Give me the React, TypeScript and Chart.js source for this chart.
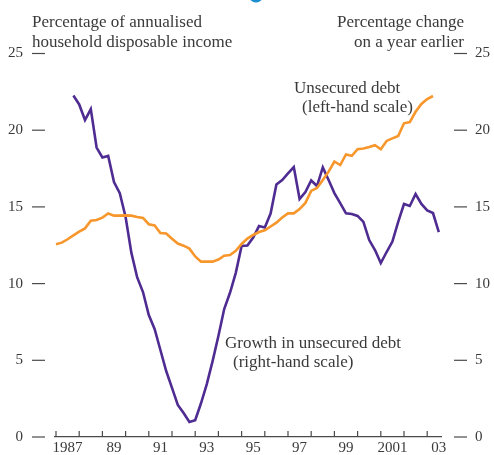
import { useEffect, useRef } from 'react';
import { Chart, registerables } from 'chart.js';

Chart.register(...registerables);

const FONT = '"Liberation Serif", "Times New Roman", serif';
const TEXT = '#3a3a3a';
const AXIS = '#4a4a4a';
const ORANGE = '#F7962B';
const PURPLE = '#4F2C91';

// Quarterly periods 1987 Q1 .. 2003 Q4 (as decimal years)
const quarterYears: number[] = [];
for (let y = 1987; y <= 2003; y++) {
  for (let q = 0; q < 4; q++) quarterYears.push(y + q / 4);
}

const yearTicks = [1987, 1988, 1989, 1990, 1991, 1992, 1993, 1994, 1995, 1996, 1997, 1998, 1999, 2000, 2001, 2002, 2003];
const yearLabels: Record<number, string> = {
  1987: '1987', 1989: '89', 1991: '91', 1993: '93', 1995: '95',
  1997: '97', 1999: '99', 2001: '2001', 2003: '03',
};
const valueTicks = [0, 5, 10, 15, 20, 25];

// Unsecured debt, % of annualised household disposable income (left-hand scale), from 1987 Q1
const debtRatio = [
  12.56, 12.67, 12.89, 13.14, 13.39, 13.6, 14.1, 14.15, 14.3, 14.57,
  14.43, 14.43, 14.45, 14.43, 14.34, 14.28, 13.87, 13.79, 13.3, 13.27,
  12.92, 12.61, 12.47, 12.28, 11.77, 11.43, 11.43, 11.43, 11.57, 11.82,
  11.86, 12.14, 12.58, 12.93, 13.17, 13.36, 13.47, 13.72, 13.97, 14.31,
  14.58, 14.58, 14.86, 15.26, 16.04, 16.23, 16.75, 17.3, 17.96, 17.73,
  18.42, 18.33, 18.76, 18.81, 18.9, 19.02, 18.76, 19.3, 19.47, 19.62,
  20.45, 20.53, 21.2, 21.71, 22.03, 22.23,
];

// Growth in unsecured debt, % change on a year earlier (right-hand scale), from 1987 Q4
const growthStartIndex = 3;
const growth = [
  22.26, 21.68, 20.66, 21.38, 18.87, 18.22, 18.32, 16.62, 15.89, 14.34,
  12.0, 10.4, 9.45, 7.95, 7.04, 5.67, 4.3, 3.2, 2.09, 1.56,
  0.98, 1.1, 2.2, 3.45, 4.95, 6.58, 8.34, 9.4, 10.7, 12.45,
  12.48, 13.0, 13.75, 13.66, 14.57, 16.46, 16.75, 17.18, 17.6, 15.51,
  15.97, 16.72, 16.36, 17.57, 16.75, 15.9, 15.25, 14.58, 14.54, 14.41,
  14.02, 12.84, 12.19, 11.34, 12.06, 12.74, 14.02, 15.19, 15.06, 15.84,
  15.19, 14.77, 14.6, 13.36,
];

const decorPlugin = {
  id: 'decor',
  afterDraw(chart: any) {
    const { ctx, chartArea, scales } = chart;
    const x = scales.x;
    const yl = scales.y;
    const yr = scales.y2;
    ctx.save();
    ctx.strokeStyle = AXIS;
    ctx.lineWidth = 1.2;
    // upward tick marks on the time axis
    x.ticks.forEach((t: any) => {
      const px = x.getPixelForValue(t.value);
      ctx.beginPath();
      ctx.moveTo(px, chartArea.bottom);
      ctx.lineTo(px, chartArea.bottom - 6);
      ctx.stroke();
    });
    // detached dashes on value axes
    yl.ticks.forEach((t: any) => {
      const py = yl.getPixelForValue(t.value);
      ctx.beginPath();
      ctx.moveTo(chartArea.left - 23, py);
      ctx.lineTo(chartArea.left - 10, py);
      ctx.stroke();
    });
    yr.ticks.forEach((t: any) => {
      const py = yr.getPixelForValue(t.value);
      ctx.beginPath();
      ctx.moveTo(chartArea.right + 13, py);
      ctx.lineTo(chartArea.right + 26, py);
      ctx.stroke();
    });

    ctx.fillStyle = TEXT;
    ctx.font = `17px ${FONT}`;
    ctx.textBaseline = 'alphabetic';
    ctx.textAlign = 'left';
    ctx.fillText('Percentage of annualised', 32, 27);
    ctx.fillText('household disposable income', 32, 46.5);
    ctx.fillText('Unsecured debt', 294, 93);
    ctx.fillText('(left-hand scale)', 302, 112);
    ctx.fillText('Growth in unsecured debt', 225, 348);
    ctx.fillText('(right-hand scale)', 233, 367);
    ctx.textAlign = 'right';
    ctx.fillText('Percentage change', 464, 27);
    ctx.fillText('on a year earlier', 464, 46.5);

    ctx.fillStyle = '#1C8DCF';
    ctx.beginPath();
    ctx.arc(256, -5, 7.5, 0, Math.PI * 2);
    ctx.fill();
    ctx.restore();
  },
};

export default function App() {
  const ref = useRef<HTMLCanvasElement | null>(null);

  useEffect(() => {
    if (!ref.current) return;
    const tickFont = { family: FONT, size: 15 };
    const fitY = (w: number) => (s: any) => {
      s.width = w;
      s.paddingTop = 0;
      s.paddingBottom = 0;
    };
    const chart = new Chart(ref.current, {
      type: 'line',
      data: {
        datasets: [
          {
            label: 'Unsecured debt (left-hand scale)',
            data: debtRatio.map((v, i) => ({ x: quarterYears[i], y: v })),
            borderColor: ORANGE,
            borderWidth: 2.6,
            pointRadius: 0,
            tension: 0,
            yAxisID: 'y',
          },
          {
            label: 'Growth in unsecured debt (right-hand scale)',
            data: growth.map((v, i) => ({ x: quarterYears[i + growthStartIndex], y: v })),
            borderColor: PURPLE,
            borderWidth: 2.6,
            pointRadius: 0,
            tension: 0,
            yAxisID: 'y2',
          },
        ],
      },
      options: {
        animation: false,
        responsive: false,
        maintainAspectRatio: false,
        layout: { padding: { top: 53.5, left: 0, right: 0, bottom: 0 } },
        plugins: { legend: { display: false }, tooltip: { enabled: false } },
        scales: {
          x: {
            type: 'linear',
            min: 1986.957,
            max: 2003.595,
            grid: { display: false, drawTicks: false },
            border: { display: true, color: AXIS, width: 1.2 },
            afterBuildTicks: (s: any) => {
              s.ticks = yearTicks.map((v) => ({ value: v }));
            },
            afterFit: (s: any) => {
              s.height = 18;
              s.paddingLeft = 0;
              s.paddingRight = 0;
            },
            ticks: {
              autoSkip: false,
              maxRotation: 0,
              padding: 2,
              labelOffset: 11.6,
              color: TEXT,
              font: tickFont,
              callback: (v: any) => yearLabels[Number(v)] ?? '',
            },
          },
          y: {
            position: 'left',
            min: 0,
            max: 25,
            grid: { display: false, drawTicks: false },
            border: { display: false },
            afterBuildTicks: (s: any) => {
              s.ticks = valueTicks.map((v) => ({ value: v }));
            },
            afterFit: fitY(55),
            ticks: { padding: 32, color: TEXT, font: tickFont },
          },
          y2: {
            position: 'right',
            min: 0,
            max: 25,
            grid: { display: false, drawTicks: false },
            border: { display: false },
            afterBuildTicks: (s: any) => {
              s.ticks = valueTicks.map((v) => ({ value: v }));
            },
            afterFit: fitY(53),
            ticks: { padding: 34, color: TEXT, font: tickFont },
          },
        },
      },
      plugins: [decorPlugin],
    });
    return () => chart.destroy();
  }, []);

  return (
    <div style={{ position: 'absolute', left: 0, top: 0, width: 494, height: 455, background: '#fff' }}>
      <canvas ref={ref} width={494} height={455} style={{ display: 'block', width: 494, height: 455 }} />
    </div>
  );
}
